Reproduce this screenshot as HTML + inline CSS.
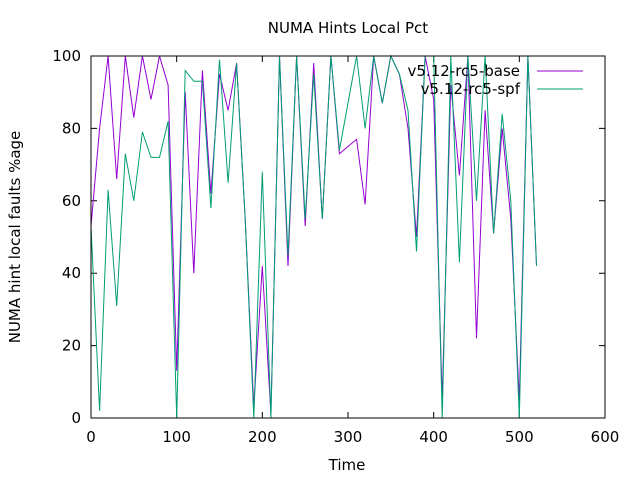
<!DOCTYPE html>
<html><head><meta charset="utf-8"><style>
body{margin:0;background:#fff}
svg{display:block;font-family:"DejaVu Sans","Liberation Sans",sans-serif}
</style></head><body>
<svg id="chart" width="640" height="480">
<text x="348" y="33" font-size="15" text-anchor="middle">NUMA Hints Local Pct</text>
<text x="347" y="470" font-size="15" text-anchor="middle">Time</text>
<text transform="translate(20,237) rotate(-90)" font-size="15" text-anchor="middle">NUMA hint local faults %age</text>
<g id="ticks"></g>
<g id="series"></g>
<rect x="91" y="56" width="514" height="362" fill="none" stroke="#000" stroke-width="1"/>
<g>
<text x="520" y="76" font-size="15" text-anchor="end">v5.12-rc5-base</text>
<line x1="537" y1="71" x2="583" y2="71" stroke="#9400d3"/>
<text x="520" y="94" font-size="15" text-anchor="end">v5.12-rc5-spf</text>
<line x1="537" y1="89" x2="583" y2="89" stroke="#009e73"/>
</g>
</svg>
<script>
const times=[0,10,20,30,40,50,60,70,80,90,100,110,120,130,140,150,160,170,180,190,200,210,220,230,240,250,260,270,280,290,300,310,320,330,340,350,360,370,380,390,400,410,420,430,440,450,460,470,480,490,500,510,520];
const baseVals=[53,80,100,66,100,83,100,88,100,92,13,90,40,96,62,95,85,98,55,3,42,1,100,42,100,53,98,55,100,73,75,77,59,100,87,100,95,80,50,100,88,5,92,67,100,22,85,51,80,55,5,100,42];
const spfVals=[53,2,63,31,73,60,79,72,72,82,0,96,93,93,58,99,65,98,55,0,68,0,100,45,100,55,95,55,100,74,87,100,80,100,87,100,95,85,46,100,100,0,100,43,100,60,100,51,84,60,0,100,42];
const xTicks=[0,100,200,300,400,500,600];
const yTicks=[0,20,40,60,80,100];
const NS="http://www.w3.org/2000/svg";
const X0=91,X1=605,Y0=418,Y1=56;
function sx(v){return X0+(v-0)/(600-0)*(X1-X0);}
function sy(v){return Y0-(v-0)/(100-0)*(Y0-Y1);}
const tg=document.getElementById('ticks');
xTicks.forEach(t=>{
  const x=sx(t);
  const p=document.createElementNS(NS,'path');
  p.setAttribute('d',`M${x},${Y0}v-6M${x},${Y1}v6`);
  p.setAttribute('stroke','#000');
  
  
  tg.appendChild(p);
  const tx=document.createElementNS(NS,'text');
  tx.setAttribute('x',x);tx.setAttribute('y',Y0+24);
  tx.setAttribute('font-size','15');tx.setAttribute('text-anchor','middle');
  tx.textContent=t;
  
  
  tg.appendChild(tx);
});
yTicks.forEach(t=>{
  const y=sy(t);
  const p=document.createElementNS(NS,'path');
  p.setAttribute('d',`M${X0},${y}h6M${X1},${y}h-6`);
  p.setAttribute('stroke','#000');
  
  
  tg.appendChild(p);
  const tx=document.createElementNS(NS,'text');
  tx.setAttribute('x',X0-10);tx.setAttribute('y',y+5);
  tx.setAttribute('font-size','15');tx.setAttribute('text-anchor','end');
  tx.textContent=t;
  
  
  tg.appendChild(tx);
});
const sg=document.getElementById('series');
function line(vals,color,name){
  const p=document.createElementNS(NS,'polyline');
  p.setAttribute('points',vals.map((v,i)=>sx(times[i]).toFixed(1)+','+sy(v).toFixed(1)).join(' '));
  p.setAttribute('fill','none');p.setAttribute('stroke',color);p.setAttribute('stroke-width','1');
  
  
  sg.appendChild(p);
}
line(baseVals,'#9400d3','series-base-line');
line(spfVals,'#009e73','series-spf-line');
</script>
</body></html>
